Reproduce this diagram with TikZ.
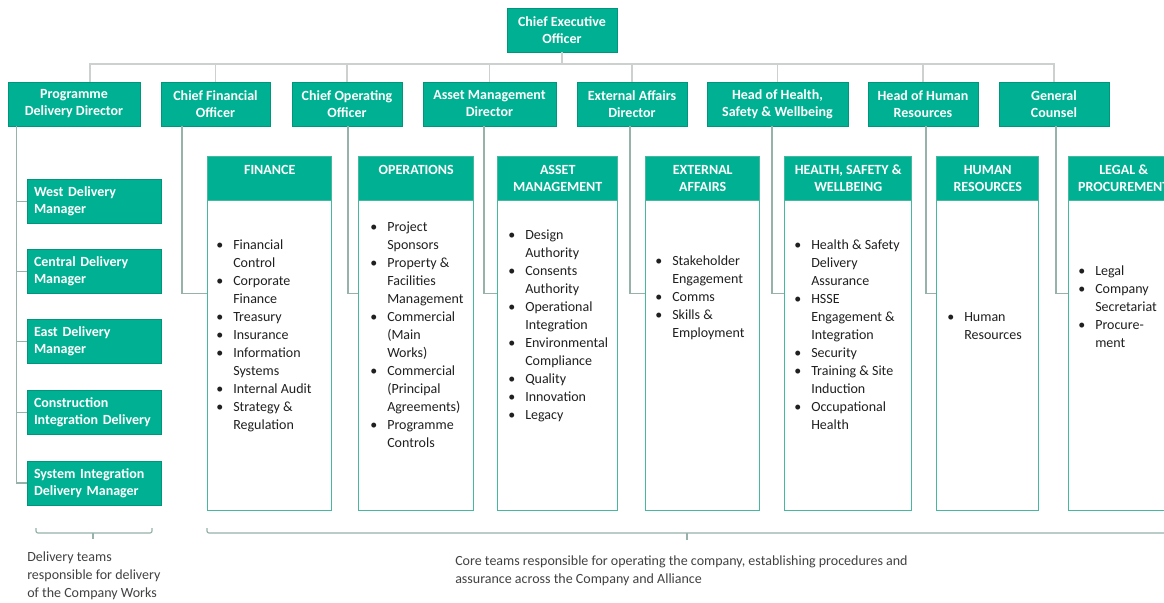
\documentclass[tikz,border=0pt]{standalone}
\usepackage{fontspec}
\setmainfont{Carlito}
\usetikzlibrary{positioning}

\definecolor{hsteal}{RGB}{0,176,146}
\definecolor{hsedge}{RGB}{70,184,160}
\definecolor{busgrey}{RGB}{204,209,208}
\definecolor{linkgrey}{RGB}{150,178,171}
\definecolor{bodytext}{RGB}{32,32,32}

\newcommand{\bl}{\leavevmode\llap{\textbullet\hspace{7.5pt}}}

\tikzset{
  role/.style={fill=hsteal, draw=hsteal!85!black, line width=0.4pt, text=white,
    font=\fontsize{10.5}{12.75}\selectfont\bfseries, align=center,
    minimum height=33pt, minimum width=#1*0.75pt, inner sep=0pt},
  manager/.style={role=134, align=left, text width=90pt, inner xsep=5.25pt},
  panel/.style={draw=hsedge, line width=1.1pt, fill=white, anchor=north west,
    minimum width=#1*0.75pt, minimum height=265.5pt, inner sep=0pt},
  header/.style={draw=hsedge, line width=1.1pt, fill=hsteal, anchor=north,
    minimum width=#1*0.75pt, minimum height=33pt, inner sep=0pt},
  title/.style={text=white, font=\fontsize{10.5}{12.75}\selectfont\bfseries,
    align=center, anchor=north, inner sep=0pt},
  duties/.style={text=bodytext, font=\fontsize{10.5}{13.5}\selectfont,
    align=left, anchor=north west, inner sep=0pt},
  note/.style={text=bodytext!85, font=\fontsize{10.5}{13.5}\selectfont,
    align=left, anchor=north west, inner sep=0pt},
  busline/.style={draw=busgrey, line width=1.2pt},
  link/.style={draw=linkgrey, line width=0.9pt},
  bracket/.style={draw=linkgrey, line width=0.9pt, rounded corners=1.5pt},
}

\begin{document}
\begin{tikzpicture}[x=0.75pt, y=-0.75pt]
    \useasboundingbox (0,0) rectangle (1164,603);
    \fill[white] (0,0) rectangle (1164,603);
    \clip (0,0) rectangle (1164,603);

    % Chief executive and the directors
    \node[role=110] (ceo) at (562,30) {Chief Executive\\Officer};
    \node[role=132] (pdd) at (74,104) {Programme\\Delivery Director};
    \node[role=109] (cfo) at (215.5,104) {Chief Financial\\Officer};
    \node[role=110] (coo) at (347,104) {Chief Operating\\Officer};
    \node[role=133] (amd) at (489.5,104) {Asset Management\\Director};
    \node[role=110] (ead) at (632,104) {External Affairs\\Director};
    \node[role=141] (hhsw) at (777.5,104) {Head of Health,\\Safety \& Wellbeing};
    \node[role=110] (hhr) at (923,104) {Head of Human\\Resources};
    \node[role=110] (gc) at (1054,104) {General\\Counsel};

    % Bus line under the chief executive
    \coordinate (bus) at (0,64);
    \draw[busline] (ceo.south) -- (ceo.south |- bus);
    \draw[busline] ([xshift=12pt]pdd.north) |- (gc.north |- bus) -- (gc.north);
    \foreach \boss in {cfo,coo,amd,ead,hhsw,hhr}
        \draw[busline] (\boss.north) -- (\boss.north |- bus);

    % Delivery managers
    \node[manager] (westdm) at (94,201.5) {West Delivery\\Manager};
    \node[manager] (centraldm) at (94,271.5) {Central Delivery\\Manager};
    \node[manager] (eastdm) at (94,341.5) {East Delivery\\Manager};
    \node[manager] (cidm) at (94,412.5) {Construction\\Integration Delivery};
    \node[manager] (sidm) at (94,483) {System Integration\\Delivery Manager};

    \coordinate (trunk) at ([xshift=6.75pt]pdd.south west);
    \draw[link] (trunk) |- (sidm.west);
    \foreach \m in {westdm,centraldm,eastdm,cidm}
        \draw[link] (\m.west -| trunk) -- (\m.west);

    % Core team panels
    \node[panel=124] (finance) at (207,156) {};
    \node[panel=115] (operations) at (358,156) {};
    \node[panel=120] (assetmgmt) at (497,156) {};
    \node[panel=114] (extaffairs) at (645,156) {};
    \node[panel=127] (healthsafety) at (784,156) {};
    \node[panel=102] (humanres) at (936,156) {};
    \node[panel=110] (legal) at (1068,156) {};

    \foreach \team/\w in {finance/124, operations/115, assetmgmt/120, extaffairs/114,
                          healthsafety/127, humanres/102, legal/110}
        \node[header=\w] (\team-h) at (\team.north) {};

    % Panel titles
    \node[title] (finance-t) at ([yshift=-6.5pt]finance.north) {FINANCE};
    \node[title] (operations-t) at ([yshift=-6.5pt]operations.north) {OPERATIONS};
    \node[title] (assetmgmt-t) at ([yshift=-6.5pt]assetmgmt.north) {ASSET\\MANAGEMENT};
    \node[title] (extaffairs-t) at ([yshift=-6.5pt]extaffairs.north) {EXTERNAL\\AFFAIRS};
    \node[title] (healthsafety-t) at ([yshift=-6.5pt]healthsafety.north) {HEALTH, SAFETY \&\\WELLBEING};
    \node[title] (humanres-t) at ([yshift=-6.5pt]humanres.north) {HUMAN\\RESOURCES};
    \node[title] (legal-t) at ([yshift=-6.5pt]legal.north) {LEGAL \&\\PROCUREMENT};

    % Directors to their teams
    \foreach \boss/\team/\dx in {cfo/finance/-33.5, coo/operations/1, amd/assetmgmt/-5.5,
                                 ead/extaffairs/-2, hhsw/healthsafety/-5.5, hhr/humanres/3,
                                 gc/legal/2}
        \draw[link] ([xshift=\dx*0.75pt]\boss.south) |- ([yshift=30pt]\team.west);

    % Duties in each panel
    \node[duties] (finance-l) at (233,240) {\bl Financial\\Control\\\bl Corporate\\Finance\\
        \bl Treasury\\\bl Insurance\\\bl Information\\Systems\\\bl Internal Audit\\
        \bl Strategy \&\\Regulation};
    \node[duties] (operations-l) at (387,222) {\bl Project\\Sponsors\\\bl Property \&\\Facilities\\
        Management\\\bl Commercial\\(Main\\Works)\\\bl Commercial\\(Principal\\Agreements)\\
        \bl Programme\\Controls};
    \node[duties] (assetmgmt-l) at (525,230) {\bl Design\\Authority\\\bl Consents\\Authority\\
        \bl Operational\\Integration\\\bl Environmental\\Compliance\\\bl Quality\\
        \bl Innovation\\\bl Legacy};
    \node[duties] (extaffairs-l) at (672,256) {\bl Stakeholder\\Engagement\\\bl Comms\\
        \bl Skills \&\\Employment};
    \node[duties] (healthsafety-l) at (811,240) {\bl Health \& Safety\\Delivery\\Assurance\\
        \bl HSSE\\Engagement \&\\Integration\\\bl Security\\\bl Training \& Site\\Induction\\
        \bl Occupational\\Health};
    \node[duties] (humanres-l) at (964,312) {\bl Human\\Resources};
    \node[duties] (legal-l) at (1095,266) {\bl Legal\\\bl Company\\Secretariat\\
        \bl Procure-\\ment};

    % Brackets and notes
    \draw[bracket] (36,528) |- (152,533) -- (152,528);
    \draw[link] (93,533) -- (93,539);
    \draw[bracket] (207,528) |- (1168,533) -- (1168,528);
    \draw[link] (687,533) -- (687,540);

    \node[note] (delnote) at (27,552) {Delivery teams\\responsible for delivery\\of the Company Works};
    \node[note] (corenote) at (455,556) {Core teams responsible for operating the company, establishing procedures and\\
        assurance across the Company and Alliance};
\end{tikzpicture}
\end{document}
